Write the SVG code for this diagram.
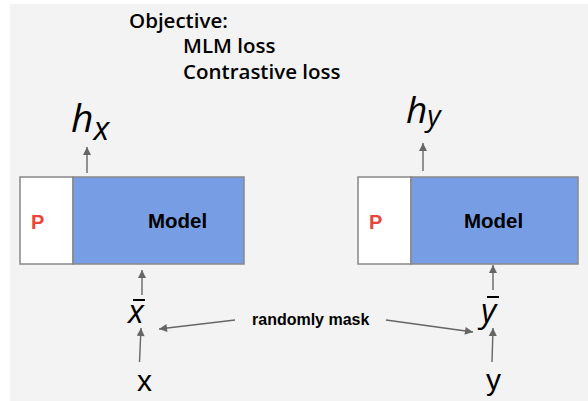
<svg xmlns="http://www.w3.org/2000/svg" width="588" height="401" viewBox="0 0 588 401">
<defs>
<marker id="ah" viewBox="0 0 10 10" refX="10" refY="5" markerWidth="9" markerHeight="8" markerUnits="userSpaceOnUse" orient="auto">
<path d="M0,0 L10,5 L0,10 z" fill="#666"/>
</marker>
<style>
.obj{font-family:"Open Sans","Liberation Sans",sans-serif;font-weight:600;font-size:20.5px;fill:#000}
.math{font-family:"Open Sans","Liberation Sans",sans-serif;font-style:italic;fill:#000}
.var{font-family:"Liberation Sans",Arial,sans-serif;fill:#000}
.lbl{font-family:"Liberation Sans",Arial,sans-serif;font-weight:bold;fill:#000}
.p{font-family:"Liberation Sans",Arial,sans-serif;font-weight:bold;font-size:20px;fill:#e8463a}
.box{stroke:#888;stroke-width:1.5}
.conn line{stroke:#666;stroke-width:1.4;marker-end:url(#ah)}
</style>
</defs>
<rect x="0" y="0" width="588" height="401" fill="#fff"/>
<rect x="10" y="4" width="578" height="397" fill="#f3f3f3"/>

<g id="objective">
<text class="obj" x="129" y="28">Objective:</text>
<text class="obj" x="183" y="53">MLM loss</text>
<text class="obj" x="183" y="79">Contrastive loss</text>
</g>

<g id="hx">
<text class="math" x="71" y="132" font-size="39">h<tspan font-size="33" dy="8">x</tspan></text>
</g>
<g id="hy">
<text class="math" x="406" y="123" font-size="37">h<tspan font-size="29" dy="3">y</tspan></text>
</g>

<g id="model-left">
<rect class="box" x="20" y="177" width="53" height="87" fill="#fff"/>
<rect class="box" x="73" y="177" width="171" height="87" fill="#779ee5"/>
<text class="p" x="31" y="229">P</text>
<text class="lbl" x="148" y="228" font-size="20.5">Model</text>
</g>
<g id="model-right">
<rect class="box" x="358" y="177" width="53" height="87" fill="#fff"/>
<rect class="box" x="411" y="177" width="167" height="87" fill="#779ee5"/>
<text class="p" x="369" y="229">P</text>
<text class="lbl" x="464" y="228" font-size="20.5">Model</text>
</g>

<g id="xbar">
<text class="math" x="128" y="323" font-size="33">x</text>
<line x1="133" y1="300" x2="145" y2="300" stroke="#000" stroke-width="2"/>
</g>
<g id="ybar">
<text class="math" x="481" y="322" font-size="33">y</text>
<line x1="487" y1="297" x2="499" y2="297" stroke="#000" stroke-width="2"/>
</g>
<g id="x">
<text class="var" x="137" y="391" font-size="30">x</text>
</g>
<g id="y">
<text class="var" x="486" y="390" font-size="30">y</text>
</g>
<g id="mask">
<text class="lbl" x="252" y="325" font-size="16">randomly mask</text>
</g>

<g id="connectors" class="conn">
<line x1="87" y1="173" x2="87" y2="147"/>
<line x1="423" y1="171" x2="423" y2="143"/>
<line x1="142" y1="295" x2="142" y2="270"/>
<line x1="139.5" y1="362" x2="141" y2="328"/>
<line x1="493" y1="290" x2="493" y2="265"/>
<line x1="492" y1="362" x2="493" y2="328"/>
<line x1="235" y1="320" x2="159" y2="329"/>
<line x1="386" y1="320" x2="473" y2="332"/>
</g>
</svg>
